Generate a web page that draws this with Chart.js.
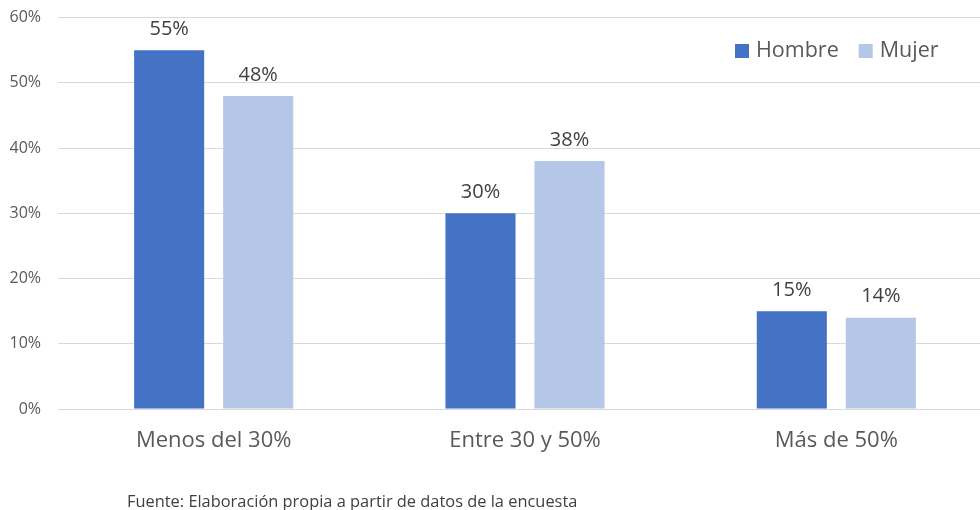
<!DOCTYPE html>
<html>
<head>
<meta charset="utf-8">
<script src="https://cdn.jsdelivr.net/npm/chart.js@4/dist/chart.umd.min.js"></script>
<style>
    html, body { margin: 0; padding: 0; background: #fff; overflow: hidden; }
    #wrap { position: relative; width: 980px; height: 510px; overflow: hidden; }
    #grafico { position: absolute; left: 0; top: -9px; }
    #fuente { position: absolute; left: 127px; top: 489px; font: 16.4px "Open Sans", sans-serif; color: #404040; white-space: nowrap; }
</style>
</head>
<body>
<div id="wrap">
    <canvas id="grafico" width="992" height="519"></canvas>
    <div id="fuente">Fuente: Elaboración propia a partir de datos de la encuesta</div>
</div>
<script>
// datos
var categorias = ['Menos del 30%', 'Entre 30 y 50%', 'Más de 50%'];
var hombre = [55, 30, 15];
var mujer = [48, 38, 14];
var ticksY = [0, 10, 20, 30, 40, 50, 60];

var fuente = '"Open Sans", sans-serif';

// etiquetas encima de las barras
var etiquetas = {
    id: 'etiquetas',
    afterDatasetsDraw: function (chart) {
        var ctx = chart.ctx;
        ctx.save();
        ctx.font = '20px ' + fuente;
        ctx.fillStyle = '#404040';
        ctx.textAlign = 'center';
        ctx.textBaseline = 'middle';
        chart.data.datasets.forEach(function (ds, i) {
            chart.getDatasetMeta(i).data.forEach(function (bar, j) {
                ctx.fillText(ds.data[j] + '%', bar.x, bar.y - 21);
            });
        });
        ctx.restore();
    }
};

// leyenda (el canvas va 9px mas arriba)
var leyenda = {
    id: 'leyenda',
    afterDraw: function (chart) {
        var ctx = chart.ctx;
        var x = 735;
        ctx.save();
        ctx.font = '21.5px ' + fuente;
        ctx.textBaseline = 'middle';
        chart.data.datasets.forEach(function (ds) {
            ctx.fillStyle = ds.backgroundColor;
            ctx.fillRect(x, 53, 14, 14);
            ctx.fillStyle = '#595959';
            ctx.textAlign = 'left';
            ctx.fillText(ds.label, x + 21, 60);
            x += 21 + ctx.measureText(ds.label).width + 20;
        });
        ctx.restore();
    }
};

var ctx = document.getElementById('grafico');

var grafico = new Chart(ctx, {
    type: 'bar',
    data: {
        labels: categorias,
        datasets: [
            { label: 'Hombre', data: hombre, backgroundColor: '#4472C4', borderWidth: 0 },
            { label: 'Mujer', data: mujer, backgroundColor: '#B4C7E7', borderWidth: 0 }
        ]
    },
    options: {
        responsive: false,
        animation: false,
        layout: { padding: { top: 8, left: 0, right: 0, bottom: 0 } },
        categoryPercentage: 0.572,
        barPercentage: 0.787,
        plugins: {
            legend: { display: false },
            tooltip: { enabled: false }
        },
        scales: {
            x: {
                grid: { display: false, drawTicks: false },
                border: { display: false },
                ticks: { font: { family: fuente, size: 22 }, color: '#595959', padding: 19 },
                afterFit: function (s) { s.height = 101; }
            },
            y: {
                min: 0,
                max: 60,
                afterBuildTicks: function (s) { s.ticks = ticksY.map(function (v) { return { value: v }; }); },
                grid: { color: '#d9d9d9', lineWidth: 1, drawTicks: false },
                border: { display: false },
                ticks: {
                    font: { family: fuente, size: 16 },
                    color: '#595959',
                    padding: 17,
                    callback: function (v) { return v + '%'; }
                },
                afterFit: function (s) { s.width = 58; }
            }
        }
    },
    plugins: [etiquetas, leyenda]
});
</script>
</body>
</html>
